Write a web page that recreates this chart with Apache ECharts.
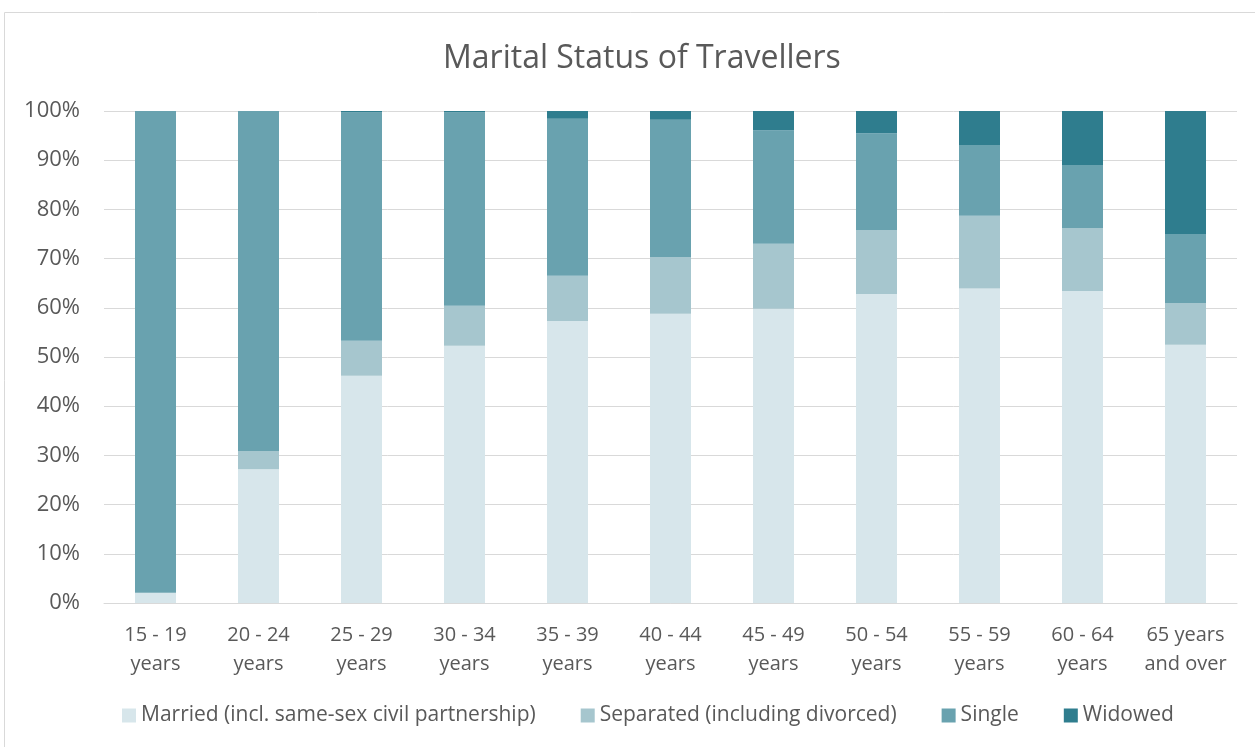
<!DOCTYPE html>
<html>
<head>
<meta charset="utf-8">
<script src="https://cdn.jsdelivr.net/npm/echarts@6/dist/echarts.min.js"></script>
<style>
  html, body { margin: 0; padding: 0; background: #fff; }
  #main { width: 1255px; height: 747px; }
</style>
</head>
<body>
<div id="main"></div>
<script>
// age groups on the x axis
const ageGroups = ["15 - 19\nyears", "20 - 24\nyears", "25 - 29\nyears", "30 - 34\nyears", "35 - 39\nyears",
  "40 - 44\nyears", "45 - 49\nyears", "50 - 54\nyears", "55 - 59\nyears", "60 - 64\nyears", "65 years\nand over"]

// shares in percent
const married   = [2.1, 27.2, 46.2, 52.3, 57.3, 58.8, 59.8, 62.8, 63.9, 63.4, 52.5]
const separated = [0, 3.7, 7.1, 8.1, 9.2, 11.5, 13.2, 13.0, 14.8, 12.8, 8.5]
const single    = [97.9, 69.1, 46.4, 39.3, 31.9, 27.9, 23.1, 19.7, 14.4, 12.8, 14.0]
const widowed   = [0, 0, 0.3, 0.3, 1.6, 1.8, 3.9, 4.5, 6.9, 11.0, 25.0]

const seriesNames = ["Married (incl. same-sex civil partnership)", "Separated (including divorced)", "Single", "Widowed"]
const colors = ["#d7e6eb", "#a6c6ce", "#69a2af", "#2f7d8e"]

const chartDom = document.getElementById("main")
const myChart = echarts.init(chartDom)

const font = "'Open Sans', 'Liberation Sans', sans-serif"
const txt = "#595959"

const option = {
  animation: false,
  color: colors,
  textStyle: { fontFamily: font },
  title: {
    text: "Marital Status of Travellers",
    left: 438,
    top: 38,
    textStyle: { fontFamily: font, fontSize: 32, fontWeight: "normal", color: txt },
  },
  graphic: [
    {
      type: "rect",
      shape: { x: 4.5, y: 12.5, width: 1300, height: 800 },
      style: { fill: "none", stroke: "#d9d9d9", lineWidth: 1 },
      silent: true,
    },
  ],
  legend: {
    bottom: 16,
    left: 117,
    itemWidth: 14,
    itemHeight: 14,
    itemGap: 45,
    icon: "rect",
    textStyle: { fontFamily: font, fontSize: 21, color: txt },
    data: seriesNames,
  },
  grid: { left: 104, right: 18, top: 111, bottom: 144 },
  xAxis: {
    type: "category",
    data: ageGroups,
    axisLine: { lineStyle: { color: "#d9d9d9", width: 1 } },
    axisTick: { show: false },
    axisLabel: {
      fontFamily: font, fontSize: 20, color: txt, lineHeight: 29, margin: 18, interval: 0,
    },
  },
  yAxis: {
    type: "value",
    min: 0,
    max: 100,
    interval: 10,
    axisLabel: { formatter: "{value}%", fontFamily: font, fontSize: 22, color: txt, margin: 24 },
    splitLine: { lineStyle: { color: "#d9d9d9", width: 1 } },
    axisLine: { show: false },
    axisTick: { show: false },
  },
  series: [married, separated, single, widowed].map((d, i) => ({
    name: seriesNames[i],
    type: "bar",
    stack: "total",
    barWidth: 41,
    data: d,
  })),
}

option && myChart.setOption(option)
</script>
</body>
</html>
